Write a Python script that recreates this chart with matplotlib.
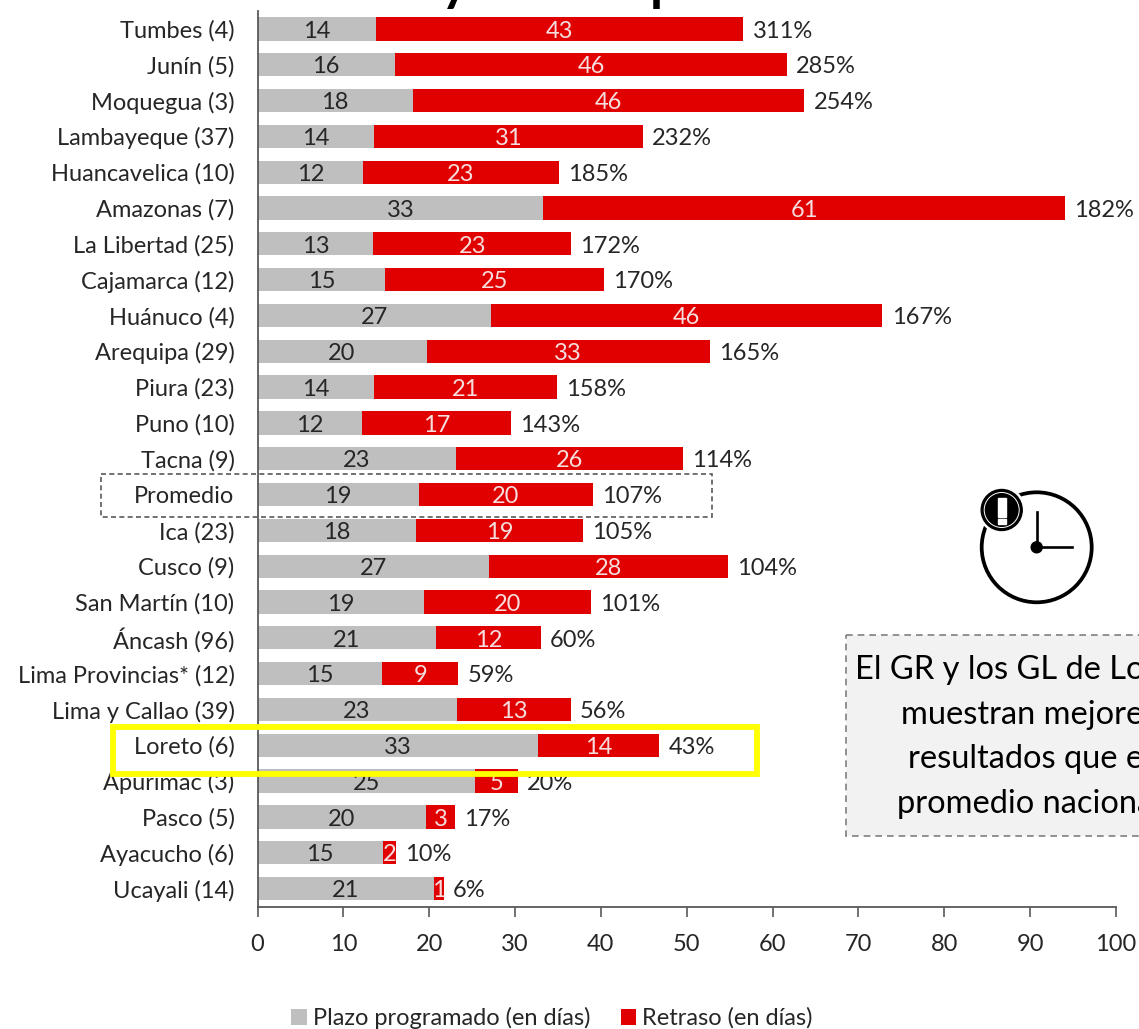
# Plazo programado y retraso por región
import matplotlib
matplotlib.use('Agg')
import matplotlib.pyplot as plt
from matplotlib.patches import Circle, Rectangle

plt.rcParams['font.family'] = ['Lato', 'DejaVu Sans']

# ------------------------------------------------
# 1. Datos
# ------------------------------------------------
regiones = ['Tumbes (4)', 'Junín (5)', 'Moquegua (3)', 'Lambayeque (37)', 'Huancavelica (10)',
            'Amazonas (7)', 'La Libertad (25)', 'Cajamarca (12)', 'Huánuco (4)', 'Arequipa (29)',
            'Piura (23)', 'Puno (10)', 'Tacna (9)', 'Promedio', 'Ica (23)', 'Cusco (9)',
            'San Martín (10)', 'Áncash (96)', 'Lima Provincias* (12)', 'Lima y Callao (39)',
            'Loreto (6)', 'Apurímac (3)', 'Pasco (5)', 'Ayacucho (6)', 'Ucayali (14)']
plazo = [13.8, 16.0, 18.1, 13.6, 12.3, 33.3, 13.5, 14.9, 27.2, 19.7, 13.6, 12.2, 23.1,
         18.8, 18.5, 27.0, 19.4, 20.8, 14.5, 23.2, 32.7, 25.3, 19.6, 14.6, 20.6]
retraso = [42.8, 45.7, 45.6, 31.3, 22.8, 60.8, 23.0, 25.5, 45.6, 33.0, 21.3, 17.3, 26.5,
           20.3, 19.4, 27.8, 19.5, 12.2, 8.9, 13.3, 14.1, 5.0, 3.4, 1.5, 1.1]
etiq_plazo = ['14', '16', '18', '14', '12', '33', '13', '15', '27', '20', '14', '12', '23',
              '19', '18', '27', '19', '21', '15', '23', '33', '25', '20', '15', '21']
etiq_retraso = ['43', '46', '46', '31', '23', '61', '23', '25', '46', '33', '21', '17', '26',
                '20', '19', '28', '20', '12', '9', '13', '14', '5', '3', '2', '1']
porcentaje = ['311%', '285%', '254%', '232%', '185%', '182%', '172%', '170%', '167%', '165%',
              '158%', '143%', '114%', '107%', '105%', '104%', '101%', '60%', '59%', '56%',
              '43%', '20%', '17%', '10%', '6%']
ticks_x = [0, 10, 20, 30, 40, 50, 60, 70, 80, 90, 100]

GRIS = '#bfbfbf'
ROJO = '#e00000'
TEXTO = '#262626'

# ------------------------------------------------
# 2. Barras apiladas
# ------------------------------------------------
fig = plt.figure(figsize=(11.39, 10.29), dpi=100)
ax = fig.add_axes([257.5 / 1139, 1 - 906.5 / 1029, (1116 - 257.5) / 1139, (906.5 - 11) / 1029])

posiciones = list(range(len(regiones)))
b1 = ax.barh(posiciones, plazo, height=0.65, color=GRIS, label='Plazo programado (en días)')
b2 = ax.barh(posiciones, retraso, left=plazo, height=0.65, color=ROJO, label='Retraso (en días)')

# Las cifras van un poco más abajo que el centro de la barra
for t in ax.bar_label(b1, labels=etiq_plazo, label_type='center', fontsize=17, color=TEXTO):
    t.xyann = (0, -1.6)
for t in ax.bar_label(b2, labels=etiq_retraso, label_type='center', fontsize=17, color='#f6dede'):
    t.xyann = (0, -1.6)

for i, txt in enumerate(porcentaje):
    ax.annotate(txt, (plazo[i] + retraso[i], i), xytext=(6.5, -1.6), textcoords='offset points',
                va='center', ha='left', fontsize=17, color=TEXTO)

ax.set_xlim(0, 100)
ax.set_ylim(len(regiones) - 0.5, -0.5)
ax.set_yticks(posiciones, regiones, fontsize=17, color=TEXTO)
ax.set_xticks(ticks_x, [str(t) for t in ticks_x], fontsize=17, color=TEXTO)
ax.tick_params(axis='y', length=0, pad=16.5)
ax.tick_params(axis='x', length=7, width=1.2, color='#595959', pad=12.5)
for lado in ['top', 'right']:
    ax.spines[lado].set_visible(False)
for lado in ['left', 'bottom']:
    ax.spines[lado].set_color('#595959')
    ax.spines[lado].set_linewidth(1.3)

fig.legend(loc='center', bbox_to_anchor=(552 / 1139, 1 - 1018 / 1029), ncol=2, frameon=False,
           fontsize=17, handlelength=0.65, handleheight=0.7, handletextpad=0.25,
           columnspacing=1.3, labelcolor=TEXTO)

# ------------------------------------------------
# 3. Capa superior en píxeles: recuadros, reloj y nota
# ------------------------------------------------
capa = fig.add_axes([0, 0, 1, 1], facecolor='none')
capa.set_xlim(0, 1139)
capa.set_ylim(1029, 0)
capa.axis('off')

# Restos del título cortado por el borde superior
capa.text(441, 0, 'y', fontsize=38, fontweight='bold', color='black', va='baseline', clip_on=False)
capa.text(650, 0, 'p', fontsize=38, fontweight='bold', color='black', va='baseline', clip_on=False)

capa.add_patch(Rectangle((101, 474), 611, 43, fill=False, ec='#595959', lw=1.2, ls=(0, (3, 2))))
capa.add_patch(Rectangle((113, 727), 644, 46.5, fill=False, ec='#ffff00', lw=4.2))

# Reloj
capa.add_patch(Circle((1036.7, 547.3), 55, fill=False, ec='black', lw=2.7))
capa.plot([1036.7, 1036.7], [547.3, 511.7], color='black', lw=1.9)
capa.plot([1036.7, 1072], [547.3, 547.3], color='black', lw=1.9)
capa.add_patch(Circle((1036.7, 547.3), 5.5, color='black'))
capa.add_patch(Circle((1001.7, 510), 23, color='white'))
capa.add_patch(Circle((1001.7, 510), 20.5, color='black'))
capa.add_patch(Circle((1001.7, 510), 17.5, fill=False, ec='white', lw=0.7))
capa.add_patch(Rectangle((998, 498), 7.5, 19, color='white'))
capa.add_patch(Rectangle((998, 518.5), 7.5, 5, color='white'))

# Nota cortada por el borde derecho
capa.add_patch(Rectangle((845.5, 635), 320, 200.5, fc='#f2f2f2', ec='#7f7f7f', lw=1.2,
                         ls=(0, (4, 3))))
capa.text(1029, 737, 'El GR y los GL de Loreto\nmuestran mejores\nresultados que el\npromedio nacional',
          fontsize=23.5, color='black', ha='center', va='center', linespacing=1.6,
          multialignment='center')

fig.savefig('out.png', dpi=100)
plt.close()
